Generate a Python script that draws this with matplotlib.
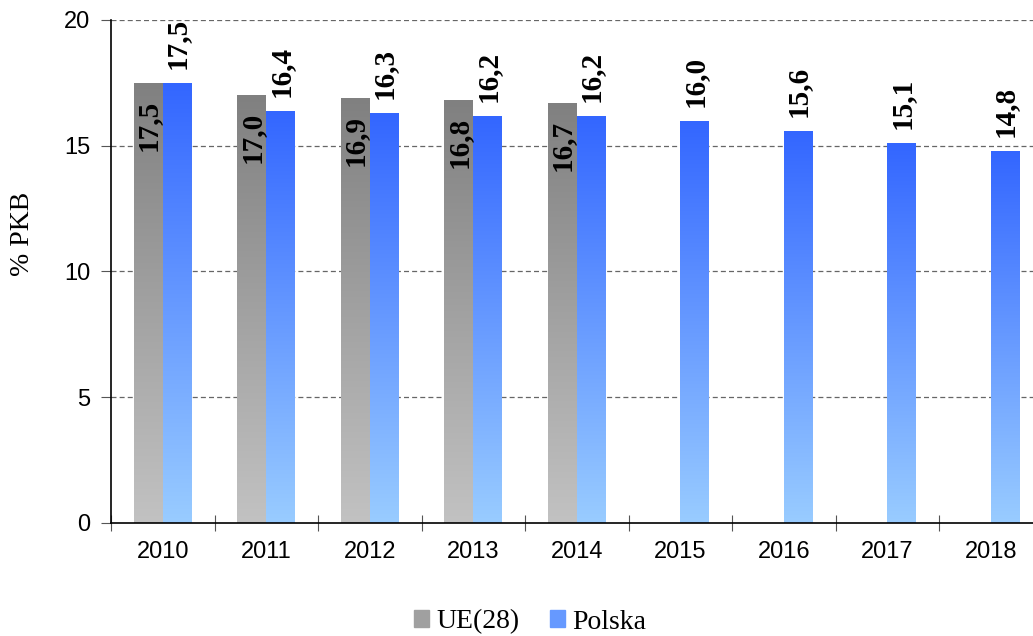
import matplotlib
matplotlib.use("Agg")
import matplotlib.pyplot as plt
from matplotlib.patches import Patch
import numpy as np

years = ["2010", "2011", "2012", "2013", "2014", "2015", "2016", "2017", "2018"]
ue = [17.5, 17.0, 16.9, 16.8, 16.7]          # UE(28), only to 2014
pl = [17.5, 16.4, 16.3, 16.2, 16.2, 16.0, 15.6, 15.1, 14.8]  # Polska

def fmt(v):
    return f"{v:.1f}".replace(".", ",")

def grad_bar(ax, x, w, h, top, bottom):
    # bar with vertical gradient (dark at top, light at bottom)
    rect = ax.bar(x, h, w, align="edge", color="none", edgecolor="none")[0]
    c1 = np.array(matplotlib.colors.to_rgb(top))
    c2 = np.array(matplotlib.colors.to_rgb(bottom))
    t = np.linspace(0, 1, 256)[:, None]
    img = (c1 * (1 - t) + c2 * t)[:, None, :]
    im = ax.imshow(img, extent=[x, x + w, 0, h], origin="upper",
                   aspect="auto", zorder=2)
    im.set_clip_path(rect)

fig = plt.figure(figsize=(10.33, 6.36), dpi=100)
ax = fig.add_axes([0.1075, 0.1777, 0.8925, 0.7909])

w = 0.28
serif = "Liberation Serif"
for i, v in enumerate(ue):
    grad_bar(ax, i - w, w, v, "#808080", "#c2c2c2")
    ax.annotate(fmt(v), (i - w / 2, v), xytext=(0, -12), textcoords="offset points",
                rotation=90, ha="center", va="top", fontsize=21,
                fontweight="bold", family=serif)
for i, v in enumerate(pl):
    grad_bar(ax, i, w, v, "#3366ff", "#99ccff")
    ax.annotate(fmt(v), (i + w / 2, v), xytext=(0, 10), textcoords="offset points",
                rotation=90, ha="center", va="bottom", fontsize=21,
                fontweight="bold", family=serif)

ax.set_xlim(-0.5, 8.408)
ax.set_ylim(0, 20)
ax.set_yticks([0, 5, 10, 15, 20])
ax.set_xticks(np.arange(len(years)) - 0.5, minor=False)
ax.set_xticklabels([])
ax.set_xticks(np.arange(len(years)), minor=True)
ax.set_xticklabels(years, minor=True, fontsize=17, family="Liberation Sans")
ax.tick_params(axis="x", which="minor", length=0, pad=13)
ax.tick_params(axis="x", which="major", direction="inout", length=12, color="#555555")
ax.tick_params(axis="y", direction="out", length=7, color="#555555", pad=8)
for lab in ax.get_yticklabels():
    lab.set_fontsize(17)
    lab.set_family("Liberation Sans")

for y in [5, 10, 15, 20]:
    ax.axhline(y, color="#666666", lw=0.9, ls=(0, (4, 2.5)), zorder=1)

for s in ["top", "right"]:
    ax.spines[s].set_visible(False)
ax.spines["left"].set_linewidth(1.2)
ax.spines["bottom"].set_linewidth(1.2)

ax.set_ylabel("% PKB", fontsize=20, family=serif)
ax.yaxis.set_label_coords(-0.082, 0.575)

handles = [Patch(color="#a0a0a0"), Patch(color="#6699ff")]
fig.legend(handles, ["UE(28)", "Polska"], loc="center",
           bbox_to_anchor=(0.513, 0.022), ncol=2, frameon=False,
           prop={"family": serif, "size": 20}, handlelength=0.55,
           handleheight=0.55, handletextpad=0.25, columnspacing=1.1)

fig.savefig("out.png", dpi=100)
